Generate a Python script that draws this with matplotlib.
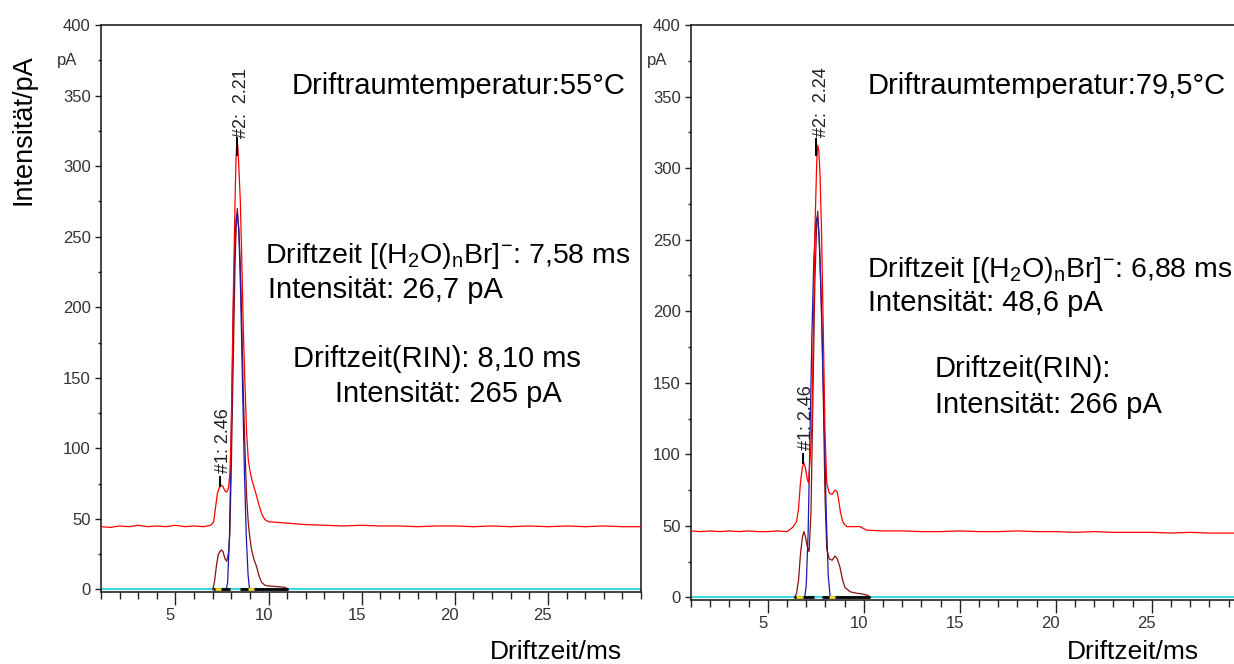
import matplotlib
matplotlib.use("Agg")
import matplotlib.pyplot as plt
from matplotlib.transforms import ScaledTranslation, Bbox
from matplotlib.ticker import MultipleLocator, FixedLocator

plt.rcParams['font.family'] = ['Liberation Sans', 'DejaVu Sans']
plt.rcParams['mathtext.fontset'] = 'custom'
plt.rcParams['mathtext.rm'] = 'Liberation Sans'
plt.rcParams['mathtext.it'] = 'Liberation Sans:italic'
plt.rcParams['mathtext.bf'] = 'Liberation Sans:bold'

# ---------------- data ----------------
# Left panel (55 °C)
left_red_x = [1.0, 1.5, 2.0, 2.5, 3.0, 3.5, 4.0, 4.5, 5.0, 5.5, 6.0, 6.5, 6.9, 7.05, 7.15, 7.25,
              7.35, 7.45, 7.55, 7.65, 7.75, 7.85, 7.92, 7.97, 8.02, 8.1, 8.2, 8.25, 8.3, 8.35,
              8.4, 8.48, 8.55, 8.64, 8.72, 8.82, 8.91, 9.0, 9.1, 9.25, 9.36, 9.5, 9.65, 9.8,
              10.0, 10.5, 11.0, 12.0, 13.0, 14.0, 15.0, 16.0, 17.0, 18.0, 19.0, 20.0, 21.0,
              22.0, 23.0, 24.0, 25.0, 26.0, 27.0, 28.0, 29.0, 30.0]
left_red_y = [44.5, 44.0, 45.0, 44.5, 45.5, 44.5, 45.0, 44.5, 45.5, 44.5, 45.0, 44.5, 45.5, 48, 58, 68,
              72, 74, 73, 70, 69, 72, 82, 100, 134, 205, 276, 305, 318, 314,
              300, 276, 240, 186, 150, 111, 92, 84, 78, 71, 66, 59, 53, 49.5,
              48, 47.5, 47, 46, 45.5, 45, 45.5, 45, 45, 44.5, 45, 45, 44.5,
              45, 44.5, 45, 44.5, 45, 44.5, 45, 44.5, 44.5]

left_blue_x = [7.72, 7.8, 7.9, 8.0, 8.1, 8.2, 8.27, 8.32, 8.4, 8.5, 8.6, 8.7, 8.8, 8.9, 8.98]
left_blue_y = [0, 5, 38, 112, 195, 248, 264, 266, 255, 210, 145, 85, 38, 10, 0]

left_brown_x = [7.0, 7.1, 7.2, 7.3, 7.45, 7.55, 7.65, 7.75, 7.85, 7.92, 8.0, 8.1, 8.2, 8.27, 8.32,
                8.4, 8.48, 8.55, 8.64, 8.72, 8.82, 8.91, 9.0, 9.09, 9.2, 9.36, 9.5, 9.63, 9.8,
                10.0, 10.5, 10.9, 11.05]
left_brown_y = [0, 6, 17, 25, 28, 27, 22, 20, 26, 40, 88, 160, 231, 262, 270,
                255, 231, 195, 141, 105, 66, 47, 36, 28, 22, 16, 9, 5, 3,
                2.5, 2, 1.5, 0]

# Right panel (79,5 °C)
right_red_x = [1.0, 1.5, 2.0, 2.5, 3.0, 3.5, 4.0, 4.5, 5.0, 5.5, 6.0, 6.1, 6.3, 6.5, 6.6, 6.7,
               6.8, 6.88, 6.95, 7.05, 7.12, 7.2, 7.29, 7.37, 7.46, 7.55, 7.6, 7.66, 7.72, 7.8,
               7.89, 7.98, 8.07, 8.2, 8.35, 8.5, 8.6, 8.67, 8.78, 8.9, 9.0, 9.11, 9.5, 9.8,
               10.15, 11.0, 12.0, 13.0, 14.0, 15.0, 16.0, 17.0, 18.0, 19.0, 20.0, 21.0, 22.0,
               23.0, 24.0, 25.0, 26.0, 27.0, 28.0, 29.0, 30.0]
right_red_y = [46.5, 46, 46.5, 46, 46.5, 46, 46.5, 46, 46, 46.5, 46, 47, 49, 53, 62, 80,
               91, 94, 91, 83, 80, 96, 118, 185, 260, 305, 316, 312, 295, 255,
               187, 115, 80, 73, 72, 75, 74, 70, 60, 53, 51, 49.5, 49.5, 49.5,
               47, 46.5, 46.5, 46, 46, 46.5, 46, 46, 46.5, 46, 46, 45.5, 46,
               45.5, 45.5, 45.5, 45, 45.5, 45, 45, 45]

right_blue_x = [6.92, 7.0, 7.1, 7.2, 7.3, 7.4, 7.5, 7.58, 7.66, 7.75, 7.85, 7.95, 8.05, 8.15, 8.25]
right_blue_y = [0, 8, 45, 115, 185, 237, 262, 266, 255, 222, 172, 115, 55, 15, 0]

right_brown_x = [6.4, 6.5, 6.6, 6.7, 6.8, 6.88, 6.95, 7.05, 7.15, 7.25, 7.35, 7.45, 7.55, 7.6,
                 7.7, 7.8, 7.89, 7.98, 8.07, 8.2, 8.35, 8.5, 8.62, 8.76, 8.9, 9.02, 9.28, 9.6,
                 9.9, 10.2, 10.35]
right_brown_y = [0, 3, 12, 30, 42, 46, 43, 36, 32, 60, 140, 220, 262, 270,
                 245, 200, 140, 70, 34, 27, 26, 29, 27, 21, 12, 7, 4, 3,
                 2.5, 1.5, 0]

# integration baseline segments (start, end)
left_black_segs = [(7.0, 7.95), (8.45, 11.05)]
left_yellow_segs = [(7.1, 7.45), (8.9, 9.2)]
right_black_segs = [(6.35, 7.4), (7.8, 10.3)]
right_yellow_segs = [(6.45, 6.85), (8.2, 8.5)]

# peak markers: (x, y_low, y_high)
left_markers = [(8.29, 308, 320), (7.38, 73, 80)]
right_markers = [(7.51, 309, 320), (6.85, 94, 100)]

x_major = [5, 10, 15, 20, 25]
y_major = [0, 50, 100, 150, 200, 250, 300, 350, 400]
y_labels = ['0', '50', '100', '150', '200', '250', '300', '350', '400']

# ---------------- figure ----------------
W, H = 1234, 664
fig = plt.figure(figsize=(W / 100, H / 100), dpi=100)


def px_axes(left, top, right, bottom):
    return [left / W, 1 - bottom / H, (right - left) / W, (bottom - top) / H]


axL = fig.add_axes(px_axes(101, 25, 641, 591.6))
axR = fig.add_axes(px_axes(691, 25, 1247.8, 599.6))

tick_col = '#333333'


def setup(ax):
    ax.set_xlim(1, 30)
    ax.set_ylim(-1.5, 400)
    ax.xaxis.set_major_locator(FixedLocator(x_major))
    ax.xaxis.set_minor_locator(MultipleLocator(1))
    ax.set_yticks(y_major)
    ax.set_yticklabels(y_labels)
    ax.yaxis.set_minor_locator(MultipleLocator(25))
    ax.tick_params(axis='x', which='major', length=9, width=1.0, pad=3,
                   labelsize=12, labelcolor=tick_col, color='#222222', direction='out')
    ax.tick_params(axis='x', which='minor', length=5, width=1.0, color='#222222', direction='out')
    ax.tick_params(axis='y', which='major', length=4, width=1.0, pad=3.5,
                   labelsize=12, labelcolor=tick_col, color='#222222', direction='out')
    ax.tick_params(axis='y', which='minor', length=2.5, width=1.0, color='#222222', direction='out')
    for s in ax.spines.values():
        s.set_linewidth(1.1)
        s.set_color('#111111')
    off = ScaledTranslation(-5 / 100, 0, fig.dpi_scale_trans)
    for lbl in ax.get_xticklabels():
        lbl.set_transform(lbl.get_transform() + off)


def draw(ax, rx, ry, bx, by, brx, bry, blk, yel, markers):
    ax.axhline(0, color='#40d8e0', lw=1.6, zorder=2)
    ax.plot(brx, bry, color='#8b1010', lw=0.9, zorder=3)
    ax.plot(bx, by, color='#1a1aa8', lw=0.9, zorder=4)
    ax.plot(rx, ry, color='#ff0000', lw=0.9, zorder=5)
    for a, b in blk:
        ax.plot([a, b], [0, 0], color='#000000', lw=2.0, zorder=6, solid_capstyle='butt')
    for a, b in yel:
        ax.plot([a, b], [0, 0], color='#f0e020', lw=2.0, zorder=7, solid_capstyle='butt')
    for x, y0, y1 in markers:
        ax.plot([x, x], [y0, y1], color='#000000', lw=1.4, zorder=8)


setup(axL)
setup(axR)
draw(axL, left_red_x, left_red_y, left_blue_x, left_blue_y, left_brown_x, left_brown_y,
     left_black_segs, left_yellow_segs, left_markers)
draw(axR, right_red_x, right_red_y, right_blue_x, right_blue_y, right_brown_x, right_brown_y,
     right_black_segs, right_yellow_segs, right_markers)


def ftext(x, y, s, **kw):
    return fig.text(x / W, 1 - y / H, s, **kw)


big = 21
# headers (descenders clipped like in the original)
for x, s in [(292, 'Driftraumtemperatur:55°C'), (868, 'Driftraumtemperatur:79,5°C')]:
    t = ftext(x, 94.5, s, fontsize=big, ha='left', va='baseline', color='black')
    t.set_clip_box(Bbox.from_extents(x - 5, H - 97.5, x + 380, H - 55))
    t.set_clip_on(True)

ion = r'Driftzeit [(H$_{\mathrm{2}}$O)$_{\mathrm{n}}$Br]$^{\mathrm{-}}$: '
ftext(265, 263, ion + '7,58 ms', fontsize=20.5, ha='left', va='baseline')
ftext(268, 298, 'Intensität: 26,7 pA', fontsize=big, ha='left', va='baseline')
ftext(293, 367, 'Driftzeit(RIN): 8,10 ms', fontsize=big, ha='left', va='baseline')
ftext(335, 402, 'Intensität: 265 pA', fontsize=big, ha='left', va='baseline')

ftext(867, 277, ion + '6,88 ms', fontsize=20.5, ha='left', va='baseline')
ftext(868, 311, 'Intensität: 48,6 pA', fontsize=big, ha='left', va='baseline')
ftext(935, 377, 'Driftzeit(RIN):', fontsize=big, ha='left', va='baseline')
ftext(935, 413, 'Intensität: 266 pA', fontsize=big, ha='left', va='baseline')

# axis titles
ftext(23.6, 130, 'Intensität/pA', fontsize=19.5, rotation=90, ha='center', va='center')
ftext(490, 659, 'Driftzeit/ms', fontsize=19, ha='left', va='baseline')
ftext(1067, 659, 'Driftzeit/ms', fontsize=19, ha='left', va='baseline')

# unit labels
ftext(57, 65, 'pA', fontsize=12, color=tick_col, ha='left', va='baseline')
ftext(647, 65, 'pA', fontsize=12, color=tick_col, ha='left', va='baseline')

# peak labels
pk = dict(fontsize=13, rotation=90, ha='center', va='bottom', color='#222222')
ftext(241.5, 138, '#2:  2.21', **pk)
ftext(224, 473, '#1: 2.46', **pk)
ftext(821.5, 137, '#2:  2.24', **pk)
ftext(806.7, 450, '#1: 2.46', **pk)

fig.savefig('out.png', dpi=100)
